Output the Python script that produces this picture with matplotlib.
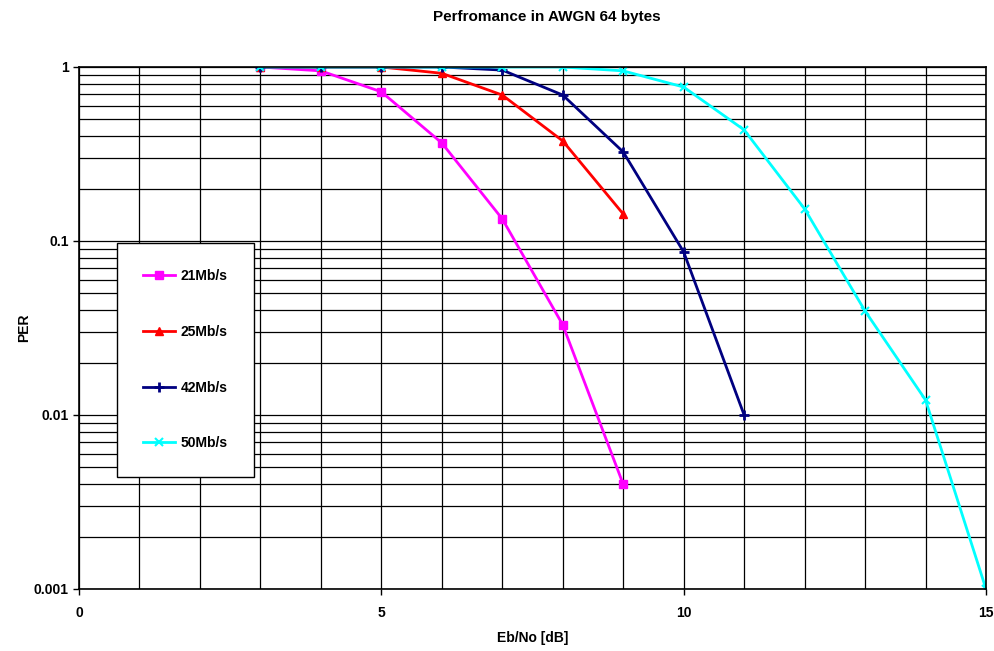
import matplotlib.pyplot as plt
import matplotlib.ticker as ticker
import numpy as np

plt.rcParams["font.family"] = ["Liberation Sans", "DejaVu Sans"]
plt.rcParams["font.weight"] = "bold"

# Eb/No values [dB] and PER per data rate
ebno_21 = [3, 4, 5, 6, 7, 8, 9]
per_21 = [1.0, 0.95, 0.72, 0.366, 0.134, 0.033, 0.004]

ebno_25 = [3, 4, 5, 6, 7, 8, 9]
per_25 = [1.0, 1.0, 1.0, 0.92, 0.69, 0.376, 0.143]

ebno_42 = [3, 4, 5, 6, 7, 8, 9, 10, 11]
per_42 = [1.0, 1.0, 1.0, 1.0, 0.96, 0.69, 0.325, 0.0865, 0.01]

ebno_50 = [3, 4, 5, 6, 7, 8, 9, 10, 11, 12, 13, 14, 15]
per_50 = [1.0, 1.0, 1.0, 1.0, 1.0, 1.0, 0.95, 0.767, 0.435, 0.153, 0.0396, 0.0122, 0.001]

fig = plt.figure(figsize=(9.94, 6.51), dpi=100)
ax = fig.add_axes([79 / 994, 1 - 589 / 651, 907 / 994, 522 / 651])

ax.set_yscale("log")
ax.set_xlim(0, 15)
ax.set_ylim(0.001, 1)

# grid: every dB vertically, every log minor step horizontally
ax.xaxis.set_major_locator(ticker.MultipleLocator(5))
ax.xaxis.set_minor_locator(ticker.MultipleLocator(1))
ax.yaxis.set_major_locator(ticker.LogLocator(base=10, numticks=10))
ax.yaxis.set_minor_locator(ticker.LogLocator(base=10, subs=np.arange(2, 10), numticks=10))
ax.yaxis.set_minor_formatter(ticker.NullFormatter())
ax.yaxis.set_major_formatter(ticker.FuncFormatter(lambda v, p: f"{v:g}"))
ax.grid(True, which="both", color="black", linewidth=0.9)
ax.set_axisbelow(True)

ax.plot(ebno_21, per_21, "-s", color="#FF00FF", lw=2, ms=6, label="21Mb/s")
ax.plot(ebno_25, per_25, "-^", color="#FF0000", lw=2, ms=6, label="25Mb/s")
ax.plot(ebno_42, per_42, "-+", color="#000080", lw=2, ms=7, mew=2, label="42Mb/s")
ax.plot(ebno_50, per_50, "-x", color="#00FFFF", lw=2, ms=6, mew=1.5, label="50Mb/s")

ax.tick_params(axis="both", which="major", labelsize=10, length=4, width=1)
ax.tick_params(axis="x", which="major", pad=8)
ax.tick_params(axis="both", which="minor", length=0)
for lbl in ax.get_xticklabels() + ax.get_yticklabels():
    lbl.set_fontweight("bold")
for sp in ax.spines.values():
    sp.set_color("black")
    sp.set_linewidth(1.2)

ax.set_xlabel("Eb/No [dB]", fontsize=10, fontweight="bold", labelpad=8)
ax.set_ylabel("PER", fontsize=10, fontweight="bold", labelpad=2)
fig.suptitle("Perfromance in AWGN 64 bytes", fontsize=11, fontweight="bold", x=0.55, y=0.985)

leg = ax.legend(loc="upper left", bbox_to_anchor=(0.042, 0.663), borderaxespad=0,
                fancybox=False, framealpha=1, edgecolor="black", borderpad=1.9,
                labelspacing=3.0, handlelength=2.3, handletextpad=0.4,
                prop={"size": 10, "weight": "bold"})
leg.get_frame().set_linewidth(1)

fig.savefig("out.png", dpi=100)
